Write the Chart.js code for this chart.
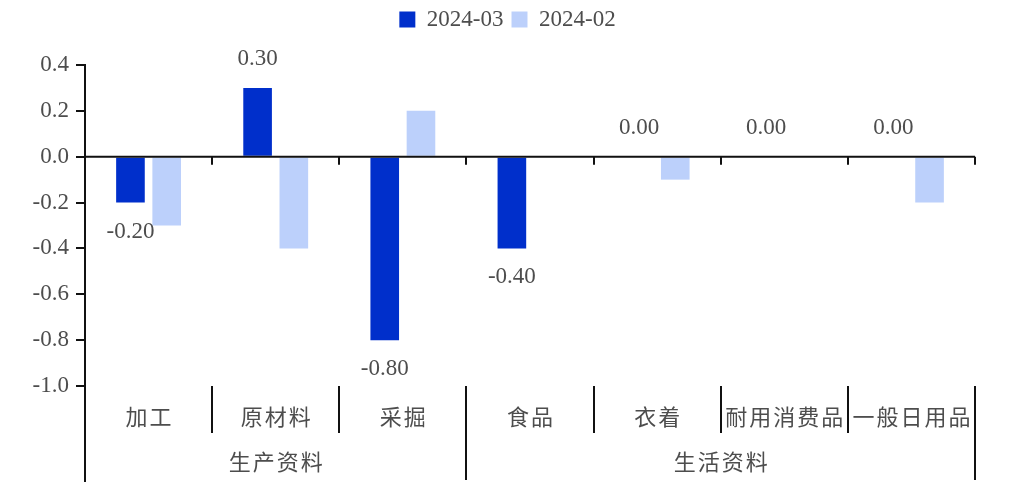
<!DOCTYPE html>
<html lang="zh-CN">
<head>
<meta charset="utf-8">
<title>2024-03 / 2024-02</title>
<script src="https://cdn.jsdelivr.net/npm/chart.js@4.4.0/dist/chart.umd.min.js"></script>
<style>
  html, body { margin: 0; padding: 0; background: #fff; }
  #wrap { width: 1022px; height: 492px; }
</style>
</head>
<body>
<div id="wrap"><canvas id="priceChart" width="1022" height="492"></canvas></div>
<script>
(function () {
    // Categories and their two-level grouping
    const categories = ['加工', '原材料', '采掘', '食品', '衣着', '耐用消费品', '一般日用品'];
    const groupNames = ['生产资料', '生活资料'];
    const groupSizes = [3, 4];

    // Series values
    const seriesNames = ['2024-03', '2024-02'];
    const marValues = [-0.20, 0.30, -0.80, -0.40, 0.00, 0.00, 0.00];
    const febValues = [-0.30, -0.40, 0.20, 0.00, -0.10, 0.00, -0.20];

    // Y axis ticks
    const yTickValues = [-1.0, -0.8, -0.6, -0.4, -0.2, 0.0, 0.2, 0.4];

    const darkBlue = '#002fcb';
    const lightBlue = '#bcd0fb';
    const lineColor = '#111111';
    const textColor = '#4d4d4d';
    const serif = "'Liberation Serif', 'Times New Roman', serif";
    const cjk = "'Noto Sans CJK SC', sans-serif";

    // Push the plot area down below the legend, and nudge the legend right
    const legendSpacer = {
        id: 'legendSpacer',
        beforeInit(chart) {
            const fit = chart.legend.fit;
            chart.legend.fit = function () {
                fit.bind(chart.legend)();
                this.height += 24;
            };
        },
        afterLayout(chart) {
            chart.legend.left += 10;
            chart.legend.right += 10;
        }
    };

    // Zero line, category separators and the two label rows under the plot
    const axisDecor = {
        id: 'axisDecor',
        afterDatasetsDraw(chart) {
            const { ctx, chartArea, scales: { x, y } } = chart;
            const y0 = y.getPixelForValue(0);
            const half = (x.getPixelForValue(1) - x.getPixelForValue(0)) / 2;
            const rightEdge = i => x.getPixelForValue(i) + half;
            const bottom = chartArea.bottom;

            const groupEnds = [];
            let acc = 0;
            groupSizes.forEach(n => { acc += n; groupEnds.push(acc - 1); });

            ctx.save();
            ctx.strokeStyle = lineColor;
            ctx.lineWidth = 2;
            ctx.beginPath();
            ctx.moveTo(chartArea.left, y0);
            ctx.lineTo(chartArea.right, y0);
            categories.forEach((c, i) => {
                const px = Math.round(rightEdge(i));
                ctx.moveTo(px, y0);
                ctx.lineTo(px, y0 + 8);
                const len = groupEnds.includes(i) ? 94 : 47;
                ctx.moveTo(px, bottom);
                ctx.lineTo(px, bottom + len);
            });
            ctx.moveTo(chartArea.left, bottom);
            ctx.lineTo(chartArea.left, bottom + 96);
            ctx.stroke();

            ctx.fillStyle = textColor;
            ctx.textAlign = 'center';
            ctx.textBaseline = 'middle';
            ctx.font = '22px ' + cjk;
            ctx.letterSpacing = '2px';
            categories.forEach((c, i) => {
                ctx.fillText(c, x.getPixelForValue(i) + 1, bottom + 31);
            });

            let start = 0;
            groupNames.forEach((g, k) => {
                const end = start + groupSizes[k] - 1;
                const left = x.getPixelForValue(start) - half;
                const right = rightEdge(end);
                ctx.fillText(g, (left + right) / 2 + 1, bottom + 76);
                start = end + 1;
            });
            ctx.restore();
        }
    };

    // Value labels for the 2024-03 bars
    const valueLabels = {
        id: 'valueLabels',
        afterDatasetsDraw(chart) {
            const { ctx } = chart;
            const meta = chart.getDatasetMeta(0);
            ctx.save();
            ctx.fillStyle = textColor;
            ctx.font = '23px ' + serif;
            ctx.textAlign = 'center';
            ctx.textBaseline = 'middle';
            meta.data.forEach((bar, i) => {
                const v = marValues[i];
                const py = v >= 0 ? bar.y - 29 : bar.y + 29;
                ctx.fillText(v.toFixed(2), bar.x, py);
            });
            ctx.restore();
        }
    };

    const ctx = document.getElementById('priceChart').getContext('2d');
    new Chart(ctx, {
        type: 'bar',
        data: {
            labels: categories,
            datasets: [{
                label: seriesNames[0],
                data: marValues,
                backgroundColor: darkBlue,
                borderWidth: 0
            }, {
                label: seriesNames[1],
                data: febValues,
                backgroundColor: lightBlue,
                borderWidth: 0
            }]
        },
        options: {
            responsive: false,
            animation: false,
            events: [],
            categoryPercentage: 0.57,
            barPercentage: 0.79,
            layout: {
                padding: { left: 20, right: 47, top: 0, bottom: 106 }
            },
            plugins: {
                legend: {
                    position: 'top',
                    labels: {
                        boxWidth: 16,
                        boxHeight: 16,
                        padding: 8,
                        color: textColor,
                        font: { family: serif, size: 23 }
                    }
                },
                tooltip: { enabled: false }
            },
            scales: {
                x: {
                    display: false
                },
                y: {
                    min: -1.0,
                    max: 0.4,
                    afterBuildTicks: scale => {
                        scale.ticks = yTickValues.map(v => ({ value: v }));
                    },
                    afterFit: scale => {
                        scale.width = 65;
                    },
                    border: {
                        display: true,
                        color: lineColor,
                        width: 2
                    },
                    grid: {
                        drawOnChartArea: false,
                        drawTicks: true,
                        tickLength: 9,
                        color: lineColor,
                        lineWidth: 2
                    },
                    ticks: {
                        padding: 7,
                        color: textColor,
                        font: { family: serif, size: 23 },
                        callback: v => (Math.abs(v) < 1e-9 ? 0 : v).toFixed(1)
                    }
                }
            }
        },
        plugins: [legendSpacer, axisDecor, valueLabels]
    });
})();
</script>
</body>
</html>
